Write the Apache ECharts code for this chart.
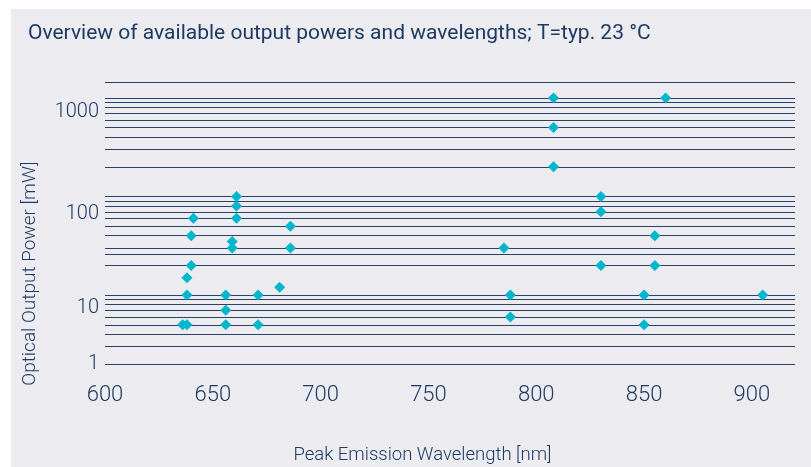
<!DOCTYPE html>
<html>
<head>
<meta charset="utf-8">
<script src="https://cdn.jsdelivr.net/npm/echarts@6/dist/echarts.min.js"></script>
<style>
html,body{margin:0;padding:0;background:#ffffff;}
#chart{width:811px;height:467px;}
</style>
</head>
<body>
<div id="chart"></div>
<script>
// Peak emission wavelength [nm]
var wavelengths = [636, 638, 638, 638, 640, 640, 641, 656, 656, 656, 659, 659, 661, 661, 661, 671, 671, 681, 686, 686,
                   785, 788, 788, 808, 808, 808, 830, 830, 830, 850, 850, 855, 855, 860, 905];
// Optical output power [mW]
var powers = [5, 5, 10, 15, 20, 40, 60, 10, 7, 5, 35, 30, 100, 80, 60, 10, 5, 12, 50, 30,
              30, 10, 6, 1000, 500, 200, 100, 70, 20, 10, 5, 40, 20, 1000, 10];
// horizontal grid levels [mW]
var gridLevels = [2, 3, 4, 5, 6, 7, 8, 9, 10, 20, 26, 30, 40, 50, 60, 70, 80, 90,
                  100, 200, 300, 400, 500, 600, 700, 800, 900, 1000, 1450];
// y tick labels and the axis values where they are printed in the original
var yTickLabels = ['1', '10', '100', '1000'];
var yTickAt = [2, 7.45, 66.7, 718];
var xMin = 600, xMax = 920, xStep = 50;
var yMin = 2, yMax = 1450;

var navy = '#1e3a62';
var lineColor = '#13305a';
var font = 'Roboto, "Noto Sans", sans-serif';

var points = wavelengths.map(function (w, i) { return [w, powers[i]]; });

var chart = echarts.init(document.getElementById('chart'), null, {renderer: 'canvas'});
chart.setOption({
  animation: false,
  backgroundColor: '#ffffff',
  graphic: [{
    type: 'rect', left: 11, top: 9, z: -10,
    shape: {width: 800, height: 458},
    style: {fill: '#ebebf0'}
  }],
  title: {
    text: 'Overview of available output powers and wavelengths; T=typ. 23 °C',
    left: 23, top: 18,
    textStyle: {fontFamily: font, fontSize: 21, fontWeight: 'normal', color: navy}
  },
  grid: {left: 105, right: 16, top: 82, bottom: 103, containLabel: false, outerBoundsMode: 'none'},
  xAxis: {
    type: 'value', min: xMin, max: xMax, interval: xStep,
    name: 'Peak Emission Wavelength [nm]', nameLocation: 'middle', nameGap: 82,
    nameTextStyle: {fontFamily: font, fontSize: 18.5, fontWeight: 300, color: navy, padding: [0, 55, 0, 0]},
    axisLine: {show: false}, axisTick: {show: false}, splitLine: {show: false},
    axisLabel: {fontFamily: font, fontSize: 22, fontWeight: 300, color: navy, margin: 20, showMaxLabel: false}
  },
  yAxis: {
    type: 'log', logBase: 10, min: yMin, max: yMax,
    name: 'Optical Output Power [mW]', nameLocation: 'middle', nameGap: 65,
    nameTextStyle: {fontFamily: font, fontSize: 19, fontWeight: 300, color: navy, padding: [0, 101, 0, 0]},
    axisLine: {show: false}, axisTick: {show: false}, splitLine: {show: false}, minorSplitLine: {show: false},
    axisLabel: {
      fontFamily: font, fontSize: 20, fontWeight: 300, color: navy, margin: 6,
      customValues: yTickAt,
      formatter: function (v) {
        var best = 0, d = Infinity;
        for (var i = 0; i < yTickAt.length; i++) {
          var dd = Math.abs(Math.log(v) - Math.log(yTickAt[i]));
          if (dd < d) { d = dd; best = i; }
        }
        return yTickLabels[best];
      }
    }
  },
  series: [
    {
      type: 'line', data: [], z: 1, silent: true,
      markLine: {
        silent: true, symbol: ['none', 'none'],
        label: {show: false},
        lineStyle: {color: lineColor, width: 1, type: 'solid', opacity: 0.9},
        emphasis: {disabled: true},
        data: gridLevels.map(function (v) { return {yAxis: v}; })
      }
    },
    {
      type: 'scatter', data: points, z: 5,
      symbol: 'diamond', symbolSize: 11,
      itemStyle: {color: '#00b6cc', opacity: 1}
    }
  ]
});
</script>
</body>
</html>
